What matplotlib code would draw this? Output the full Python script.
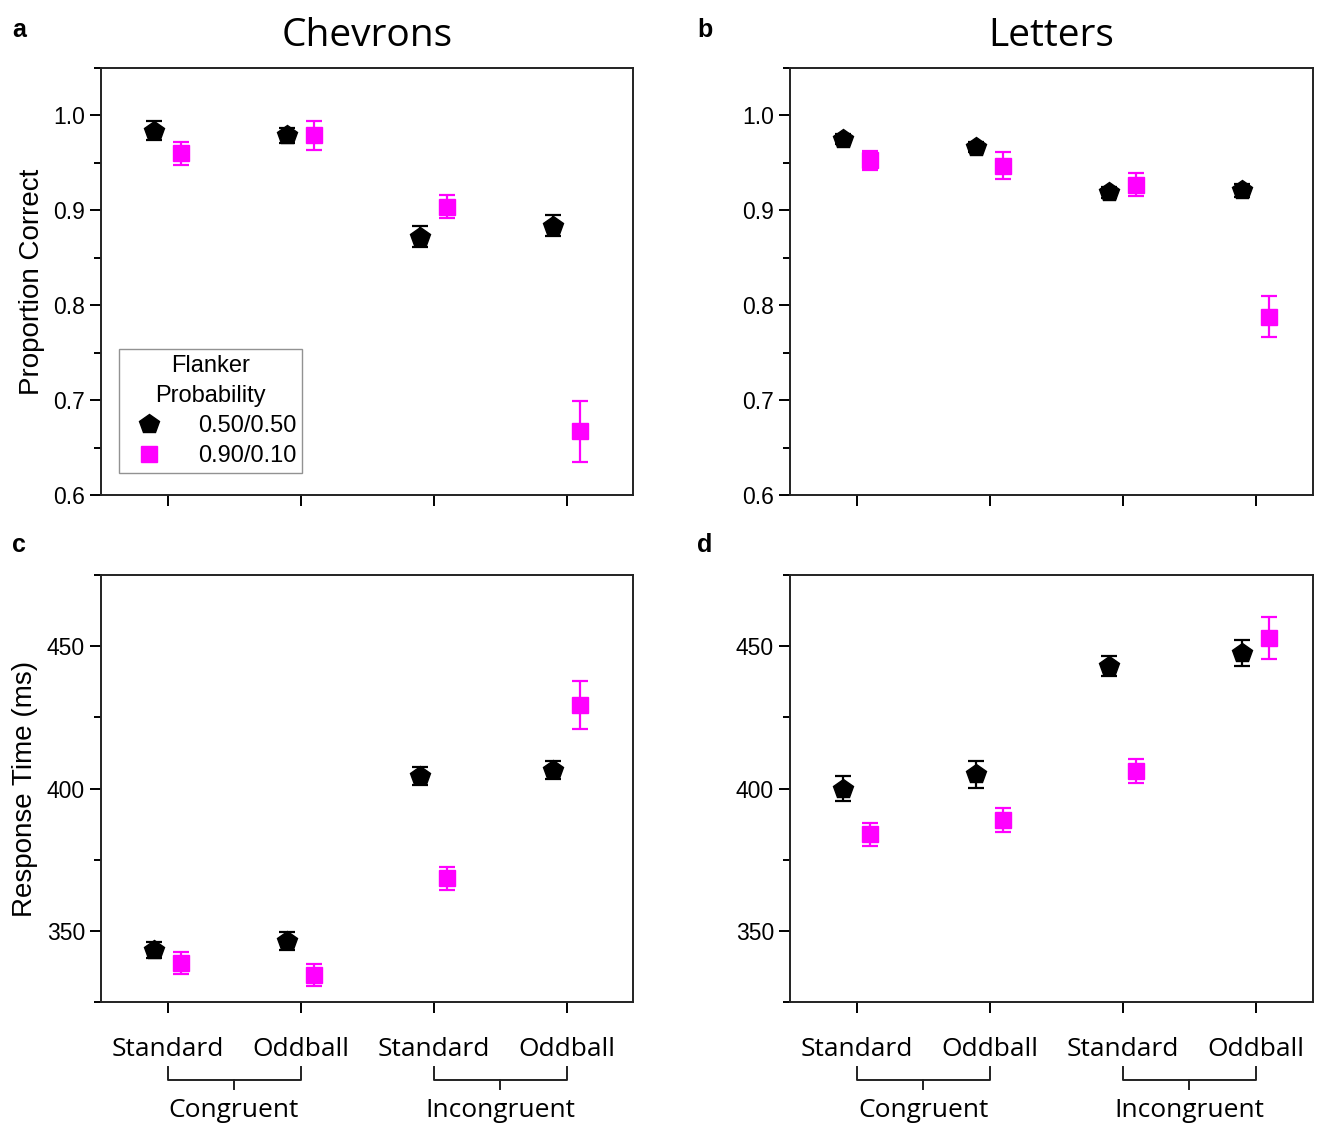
import matplotlib
matplotlib.use("Agg")
import matplotlib.pyplot as plt
import matplotlib.transforms as mtransforms
from matplotlib.ticker import MultipleLocator
from matplotlib.lines import Line2D
import numpy as np

# conditions along x
cond_labels = ["Standard", "Oddball", "Standard", "Oddball"]
group_labels = ["Congruent", "Incongruent"]
series_names = ["0.50/0.50", "0.90/0.10"]

# proportion correct
chev_acc_50 = [0.984, 0.979, 0.872, 0.884]
chev_acc_50_err = [0.010, 0.008, 0.011, 0.011]
chev_acc_90 = [0.960, 0.979, 0.904, 0.667]
chev_acc_90_err = [0.012, 0.015, 0.012, 0.032]

lett_acc_50 = [0.975, 0.967, 0.919, 0.921]
lett_acc_50_err = [0.005, 0.005, 0.006, 0.007]
lett_acc_90 = [0.953, 0.947, 0.927, 0.788]
lett_acc_90_err = [0.010, 0.014, 0.012, 0.022]

# response time (ms)
chev_rt_50 = [343.3, 346.4, 404.4, 406.5]
chev_rt_50_err = [2.8, 3.3, 3.3, 3.3]
chev_rt_90 = [338.7, 334.5, 368.5, 429.2]
chev_rt_90_err = [3.8, 4.0, 4.0, 8.4]

lett_rt_50 = [400.0, 405.0, 443.0, 447.6]
lett_rt_50_err = [4.4, 4.7, 3.6, 4.5]
lett_rt_90 = [383.9, 389.0, 406.1, 453.0]
lett_rt_90_err = [4.1, 4.2, 4.3, 7.4]

SANS = ["Liberation Sans", "DejaVu Sans"]
OPEN = ["Open Sans", "DejaVu Sans"]
plt.rcParams['font.family'] = SANS

fig = plt.figure(figsize=(13.25, 11.24), dpi=100)
W, H = 1325, 1124
def box(l, t, r, b):
    return [l / W, 1 - b / H, (r - l) / W, (b - t) / H]

ax_a = fig.add_axes(box(101, 68, 633, 495))
ax_b = fig.add_axes(box(790, 68, 1313, 495))
ax_c = fig.add_axes(box(101, 575, 633, 1002))
ax_d = fig.add_axes(box(790, 575, 1313, 1002))

x = np.arange(1, 5)
off = 0.1
MAG = '#FF00FF'

def draw(ax, y50, e50, y90, e90, xmax):
    ax.errorbar(x - off, y50, yerr=e50, fmt='p', color='black', ms=15,
                capsize=6, elinewidth=1.6, capthick=1.6)
    ax.errorbar(x + off, y90, yerr=e90, fmt='s', color=MAG, ms=11,
                capsize=6, elinewidth=1.6, capthick=1.6)
    ax.set_xlim(0.5, xmax)
    ax.set_xticks(x)
    for s in ax.spines.values():
        s.set_linewidth(1.4)
        s.set_color('#222222')
    ax.tick_params(axis='both', direction='out', length=8, width=1.4,
                   labelsize=16.5, top=False, right=False)
    ax.tick_params(axis='y', which='minor', direction='out', length=5, width=1.4)

for ax, xmax, d in [(ax_a, 4.5, (chev_acc_50, chev_acc_50_err, chev_acc_90, chev_acc_90_err)),
                    (ax_b, 4.43, (lett_acc_50, lett_acc_50_err, lett_acc_90, lett_acc_90_err))]:
    draw(ax, *d, xmax)
    ax.set_ylim(0.6, 1.05)
    ax.yaxis.set_major_locator(MultipleLocator(0.1))
    ax.yaxis.set_minor_locator(MultipleLocator(0.05))
    ax.yaxis.set_major_formatter(matplotlib.ticker.FormatStrFormatter('%.1f'))
    ax.set_xticklabels([])

for ax, xmax, d in [(ax_c, 4.5, (chev_rt_50, chev_rt_50_err, chev_rt_90, chev_rt_90_err)),
                    (ax_d, 4.43, (lett_rt_50, lett_rt_50_err, lett_rt_90, lett_rt_90_err))]:
    draw(ax, *d, xmax)
    ax.set_ylim(325, 475)
    ax.yaxis.set_major_locator(MultipleLocator(50))
    ax.yaxis.set_minor_locator(MultipleLocator(25))
    ax.set_xticklabels(cond_labels, fontfamily=OPEN, fontsize=19)
    ax.tick_params(axis='x', pad=17)
    # group brackets
    tr = mtransforms.blended_transform_factory(ax.transData, ax.transAxes)
    for gi, g in enumerate(group_labels):
        x0, x1 = x[2 * gi], x[2 * gi + 1]
        xm = (x0 + x1) / 2
        ax.plot([x0, x0, x1, x1], [-0.152, -0.183, -0.183, -0.152], color='#222222',
                lw=1.4, transform=tr, clip_on=False)
        ax.plot([xm, xm], [-0.183, -0.203], color='#222222', lw=1.4,
                transform=tr, clip_on=False)
        ax.text(xm, -0.255, g, transform=tr, ha='center', va='center',
                fontsize=19, fontfamily=OPEN)

ax_a.set_ylabel("Proportion Correct", fontsize=20, labelpad=6)
ax_c.set_ylabel("Response Time (ms)", fontsize=20, labelpad=6)

ax_a.set_title("Chevrons", fontsize=28, fontfamily=OPEN, pad=16)
ax_b.set_title("Letters", fontsize=28, fontfamily=OPEN, pad=16)

handles = [Line2D([], [], ls='none', marker='p', color='black', ms=15),
           Line2D([], [], ls='none', marker='s', color=MAG, ms=11)]
leg = ax_a.legend(handles, series_names, loc='upper left', bbox_to_anchor=(0.034, 0.342),
                  borderaxespad=0,
                  title="Flanker\nProbability", fontsize=17, title_fontsize=17,
                  frameon=True, fancybox=False, edgecolor='#777777',
                  handletextpad=1.1, handlelength=2.0, borderpad=0.25,
                  labelspacing=0.35)
leg.get_frame().set_linewidth(1.0)
leg.get_title().set_multialignment('center')
leg.get_title().set_linespacing(1.45)

for lab, (px, py) in zip("abcd", [(12, 30), (697, 30), (12, 545), (697, 545)]):
    fig.text(px / W, 1 - py / H, lab, fontsize=18, fontweight='bold',
             ha='left', va='center')

fig.savefig("out.png", dpi=100)
